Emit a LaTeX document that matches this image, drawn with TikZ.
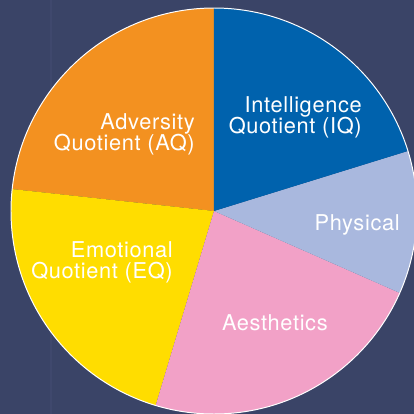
\documentclass[tikz,border=0pt]{standalone}
\usepackage{fontspec}
\setmainfont[LetterSpace=3]{TeX Gyre Heros}
\definecolor{bgnavy}{HTML}{3A4467}
\definecolor{bgstripe}{HTML}{3F486D}
\definecolor{aqorange}{HTML}{F39120}
\definecolor{iqblue}{HTML}{0062AD}
\definecolor{physlav}{HTML}{A9B8DE}
\definecolor{aespink}{HTML}{F2A1C7}
\definecolor{eqyellow}{HTML}{FFDD00}

\begin{document}
\begin{tikzpicture}[slicelabel/.style={text=white, font=\fontsize{15.5}{15}\selectfont, inner sep=0pt}]
        \useasboundingbox (-5.35, -5.075) rectangle (5.0, 5.275);
        \clip (-5.35, -5.075) rectangle (5.0, 5.275);
        \fill[bgnavy] (-5.35, -5.075) rectangle (5.0, 5.275);
        \fill[bgstripe] (-4.1, -5.075) rectangle (-4.06, 5.275);
        \def\r{5.075}
        % slices
        \fill[aqorange] (0, 0) -- (90:\r) arc[start angle=90, end angle=173.8, radius=\r] -- cycle;
        \fill[eqyellow] (0, 0) -- (173.8:\r) arc[start angle=173.8, end angle=253.3, radius=\r] -- cycle;
        \fill[aespink] (0, 0) -- (253.3:\r) arc[start angle=253.3, end angle=336.2, radius=\r] -- cycle;
        \fill[physlav] (0, 0) -- (-23.8:\r) arc[start angle=-23.8, end angle=17.2, radius=\r] -- cycle;
        \fill[iqblue] (0, 0) -- (17.2:\r) arc[start angle=17.2, end angle=90, radius=\r] -- cycle;
        \draw[white, line width=0.7pt] (0, 0) circle (\r);
        % labels
        \node[slicelabel, align=right, anchor=east] (aq) at (-0.475, 1.925) {Adversity\\Quotient (AQ)};
        \node[slicelabel, align=right, anchor=east] (iq) at (3.7, 2.35) {Intelligence\\Quotient (IQ)};
        \node[slicelabel, anchor=base east] (phys) at (4.65, -0.475) {Physical};
        \node[slicelabel, align=right, anchor=east] (eq) at (-1.025, -1.275) {Emotional\\Quotient (EQ)};
        \node[slicelabel, anchor=base east] (aes) at (2.85, -2.975) {Aesthetics};
    \end{tikzpicture}
\end{document}
